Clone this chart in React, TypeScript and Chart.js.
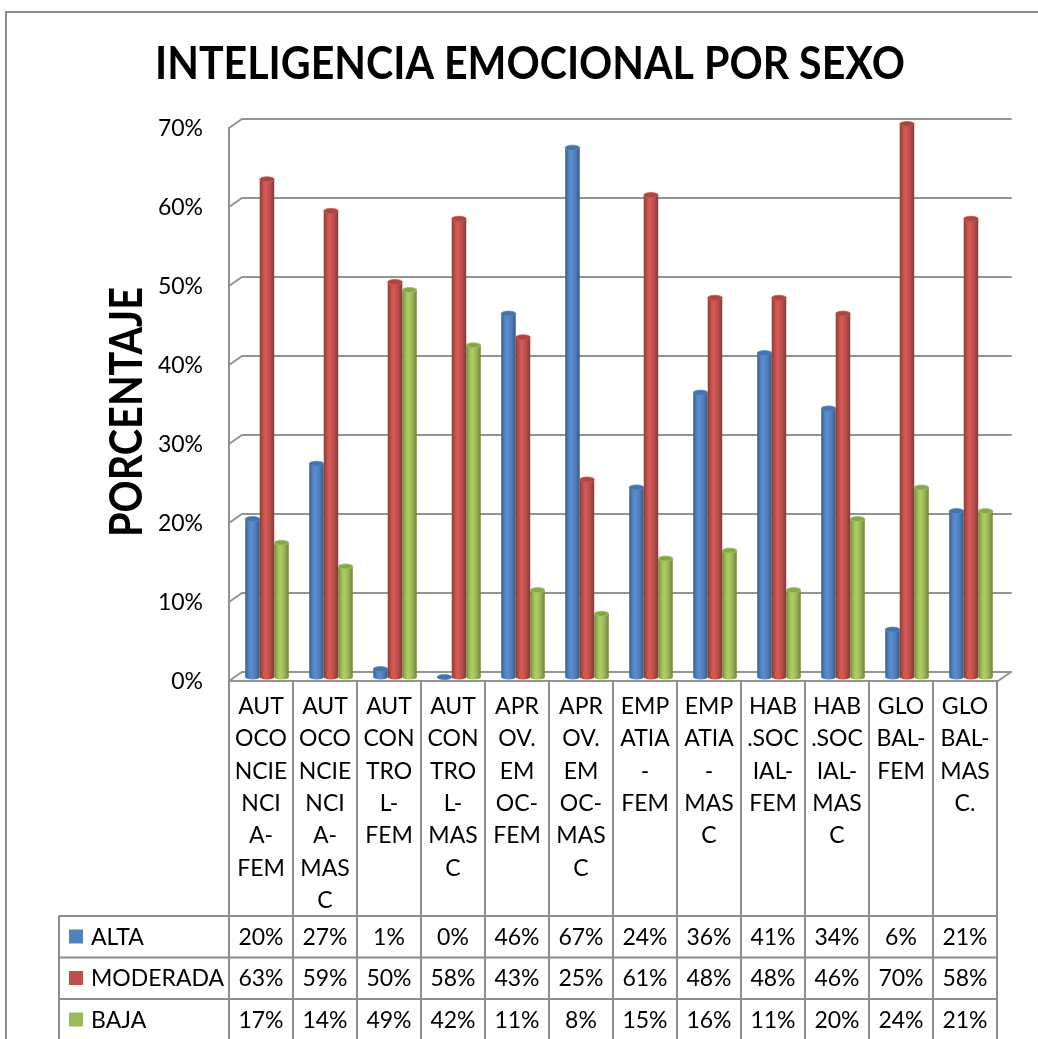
import { useEffect, useRef } from "react";
import { Chart, registerables } from "chart.js";

Chart.register(...registerables);

const chartTitle = "INTELIGENCIA EMOCIONAL POR SEXO";
const axisTitle = "PORCENTAJE";

const categories = [
  "AUTOCONCIENCIA-FEM",
  "AUTOCONCIENCIA-MASC",
  "AUTCONTROL-FEM",
  "AUTCONTROL-MASC",
  "APROV.EMOC-FEM",
  "APROV.EMOC-MASC",
  "EMPATIA-FEM",
  "EMPATIA-MASC",
  "HAB.SOCIAL-FEM",
  "HAB.SOCIAL-MASC",
  "GLOBAL-FEM",
  "GLOBAL-MASC.",
];

// wrapped lines of the category labels as shown in the data table header
const categoryLines = [
  ["AUT", "OCO", "NCIE", "NCI", "A-", "FEM"],
  ["AUT", "OCO", "NCIE", "NCI", "A-", "MAS", "C"],
  ["AUT", "CON", "TRO", "L-", "FEM"],
  ["AUT", "CON", "TRO", "L-", "MAS", "C"],
  ["APR", "OV.", "EM", "OC-", "FEM"],
  ["APR", "OV.", "EM", "OC-", "MAS", "C"],
  ["EMP", "ATIA", "-", "FEM"],
  ["EMP", "ATIA", "-", "MAS", "C"],
  ["HAB", ".SOC", "IAL-", "FEM"],
  ["HAB", ".SOC", "IAL-", "MAS", "C"],
  ["GLO", "BAL-", "FEM"],
  ["GLO", "BAL-", "MAS", "C."],
];

const seriesNames = ["ALTA", "MODERADA", "BAJA"];
const alta = [20, 27, 1, 0, 46, 67, 24, 36, 41, 34, 6, 21];
const moderada = [63, 59, 50, 58, 43, 25, 61, 48, 48, 46, 70, 58];
const baja = [17, 14, 49, 42, 11, 8, 15, 16, 11, 20, 24, 21];
const seriesData = [alta, moderada, baja];
const seriesColors = ["#4F81BD", "#C0504D", "#9BBB59"];

const yTicks = [0, 10, 20, 30, 40, 50, 60, 70];

const FONT = "Lato, 'Open Sans', 'DejaVu Sans', sans-serif";
const LINE = "#8c8c8c";

function shade(hex: string, f: number) {
  const n = parseInt(hex.slice(1), 16);
  const r = Math.min(255, Math.round(((n >> 16) & 255) * f));
  const g = Math.min(255, Math.round(((n >> 8) & 255) * f));
  const b = Math.min(255, Math.round((n & 255) * f));
  return `rgb(${r},${g},${b})`;
}

const FRONT_DY = 4;
const BACK_DY = -5;
const BACK_DX = 13;
const BAR_DX = 6;

const decorPlugin = {
  id: "decor",
  beforeDatasetsDraw(chart: any) {
    const ctx: CanvasRenderingContext2D = chart.ctx;
    const ys = chart.scales.y;
    const area = chart.chartArea;
    const left = area.left;
    const right = area.right;
    ctx.save();
    ctx.strokeStyle = "#939393";
    ctx.lineWidth = 2;
    ctx.lineCap = "round";
    for (const v of yTicks) {
      const y = ys.getPixelForValue(v);
      const yf = y + FRONT_DY;
      const yb = y + BACK_DY;
      ctx.beginPath();
      ctx.moveTo(left, yf);
      ctx.lineTo(left + BACK_DX, yb);
      ctx.lineTo(right + 1 + BACK_DX, yb);
      ctx.stroke();
    }
    const yf0 = ys.getPixelForValue(0) + FRONT_DY;
    const yb0 = ys.getPixelForValue(0) + BACK_DY;
    const yfTop = ys.getPixelForValue(70) + FRONT_DY;
    ctx.beginPath();
    ctx.moveTo(left, yfTop);
    ctx.lineTo(left, yf0);
    ctx.lineTo(right + 1, yf0);
    ctx.lineTo(right + 1 + BACK_DX, yb0);
    ctx.stroke();

    // y tick labels
    ctx.fillStyle = "#000";
    ctx.font = `23px ${FONT}`;
    ctx.textAlign = "right";
    ctx.textBaseline = "alphabetic";
    for (const v of yTicks) {
      const yf = ys.getPixelForValue(v) + FRONT_DY;
      ctx.fillText(`${v}%`, 203, yf + 8);
    }
    ctx.restore();
  },
  afterDatasetsDraw(chart: any) {
    const ctx: CanvasRenderingContext2D = chart.ctx;
    const n = categories.length;
    ctx.save();
    for (let i = 0; i < n; i++) {
      for (let d = 0; d < seriesData.length; d++) {
        const meta = chart.getDatasetMeta(d);
        const el = meta.data[i];
        const p = el.getProps(["x", "y", "base", "width"], true);
        const cx = p.x + BAR_DX;
        const rx = p.width / 2;
        const ry = 2.5;
        const top = p.y;
        const base = p.base;
        const col = seriesColors[d];
        const g = ctx.createLinearGradient(cx - rx, 0, cx + rx, 0);
        g.addColorStop(0, shade(col, 0.72));
        g.addColorStop(0.22, shade(col, 1.0));
        g.addColorStop(0.4, shade(col, 1.12));
        g.addColorStop(0.7, shade(col, 0.98));
        g.addColorStop(1, shade(col, 0.7));
        ctx.beginPath();
        ctx.moveTo(cx - rx, top);
        ctx.lineTo(cx - rx, base);
        ctx.ellipse(cx, base, rx, ry, 0, Math.PI, 0, true);
        ctx.lineTo(cx + rx, top);
        ctx.closePath();
        ctx.fillStyle = g;
        ctx.fill();
        // top cap
        ctx.beginPath();
        ctx.ellipse(cx, top, rx, ry, 0, 0, Math.PI * 2);
        ctx.fillStyle = shade(col, 0.88);
        ctx.fill();
        ctx.strokeStyle = shade(col, 1.05);
        ctx.lineWidth = 0.8;
        ctx.stroke();
      }
    }
    ctx.restore();
  },
  afterDraw(chart: any) {
    const ctx: CanvasRenderingContext2D = chart.ctx;
    const xs = chart.scales.x;
    const ys = chart.scales.y;
    const area = chart.chartArea;
    const n = categories.length;
    const band = area.width / n;
    const tableTop = ys.getPixelForValue(0) + FRONT_DY - 1;
    const headerBottom = 916;
    const rowH = 41.5;
    const tableBottom = 1045;
    const legendLeft = 59;
    ctx.save();

    // outer border
    ctx.strokeStyle = LINE;
    ctx.lineWidth = 2;
    ctx.strokeRect(6, 12, 1060, 1060);

    // title
    ctx.fillStyle = "#000";
    ctx.font = `bold 45px ${FONT}`;
    ctx.textAlign = "center";
    ctx.textBaseline = "alphabetic";
    let w = ctx.measureText(chartTitle).width;
    ctx.save();
    ctx.translate(530, 79);
    ctx.scale(750 / w, 1);
    ctx.fillText(chartTitle, 0, 0);
    ctx.restore();

    // axis title
    w = ctx.measureText(axisTitle).width;
    ctx.save();
    ctx.translate(142, 412);
    ctx.rotate(-Math.PI / 2);
    ctx.scale(250 / w, 1);
    ctx.fillText(axisTitle, 0, 0);
    ctx.restore();

    // table grid
    ctx.strokeStyle = LINE;
    ctx.lineWidth = 2;
    ctx.lineCap = "butt";
    const edges: number[] = [];
    for (let i = 0; i < n; i++) edges.push(xs.getPixelForValue(i) - band / 2);
    edges.push(xs.getPixelForValue(n - 1) + band / 2);
    ctx.beginPath();
    for (const e of edges) {
      ctx.moveTo(e, tableTop);
      ctx.lineTo(e, tableBottom);
    }
    ctx.moveTo(legendLeft, headerBottom);
    ctx.lineTo(legendLeft, tableBottom);
    for (let r = 0; r < 3; r++) {
      const y = headerBottom + r * rowH;
      ctx.moveTo(legendLeft, y);
      ctx.lineTo(edges[n], y);
    }
    ctx.stroke();

    // header labels
    ctx.fillStyle = "#000";
    ctx.font = `23px ${FONT}`;
    ctx.textAlign = "center";
    for (let i = 0; i < n; i++) {
      const cx = xs.getPixelForValue(i);
      categoryLines[i].forEach((ln, k) => {
        ctx.fillText(ln, cx, 714 + k * 32.3);
      });
    }

    // rows
    for (let r = 0; r < seriesNames.length; r++) {
      const yb = headerBottom + r * rowH + 28.5;
      ctx.fillStyle = seriesColors[r];
      ctx.fillRect(69, yb - 15, 14, 14);
      ctx.fillStyle = "#000";
      ctx.textAlign = "left";
      ctx.fillText(seriesNames[r], 91, yb);
      ctx.textAlign = "center";
      for (let i = 0; i < n; i++) {
        ctx.fillText(`${seriesData[r][i]}%`, xs.getPixelForValue(i), yb);
      }
    }
    ctx.restore();
  },
};

export default function App() {
  const ref = useRef<HTMLCanvasElement | null>(null);
  useEffect(() => {
    if (!ref.current) return;
    const chart = new Chart(ref.current, {
      type: "bar",
      data: {
        labels: categories,
        datasets: seriesNames.map((name, k) => ({
          label: name,
          data: seriesData[k],
          backgroundColor: "rgba(0,0,0,0)",
          borderWidth: 0,
          categoryPercentage: 0.68,
          barPercentage: 1,
        })),
      },
      options: {
        responsive: false,
        animation: false,
        events: [],
        layout: { padding: { left: 229, right: 41, top: 124, bottom: 362 } },
        plugins: {
          legend: { display: false },
          title: { display: false },
          tooltip: { enabled: false },
        },
        scales: {
          x: { display: false, offset: true },
          y: { display: false, min: 0, max: 70 },
        },
      },
      plugins: [decorPlugin],
    });
    return () => chart.destroy();
  }, []);
  return (
    <div style={{ position: "absolute", left: 0, top: 0, width: 1038, height: 1039, background: "#fff" }}>
      <canvas ref={ref} width={1038} height={1039} style={{ display: "block" }} />
    </div>
  );
}
